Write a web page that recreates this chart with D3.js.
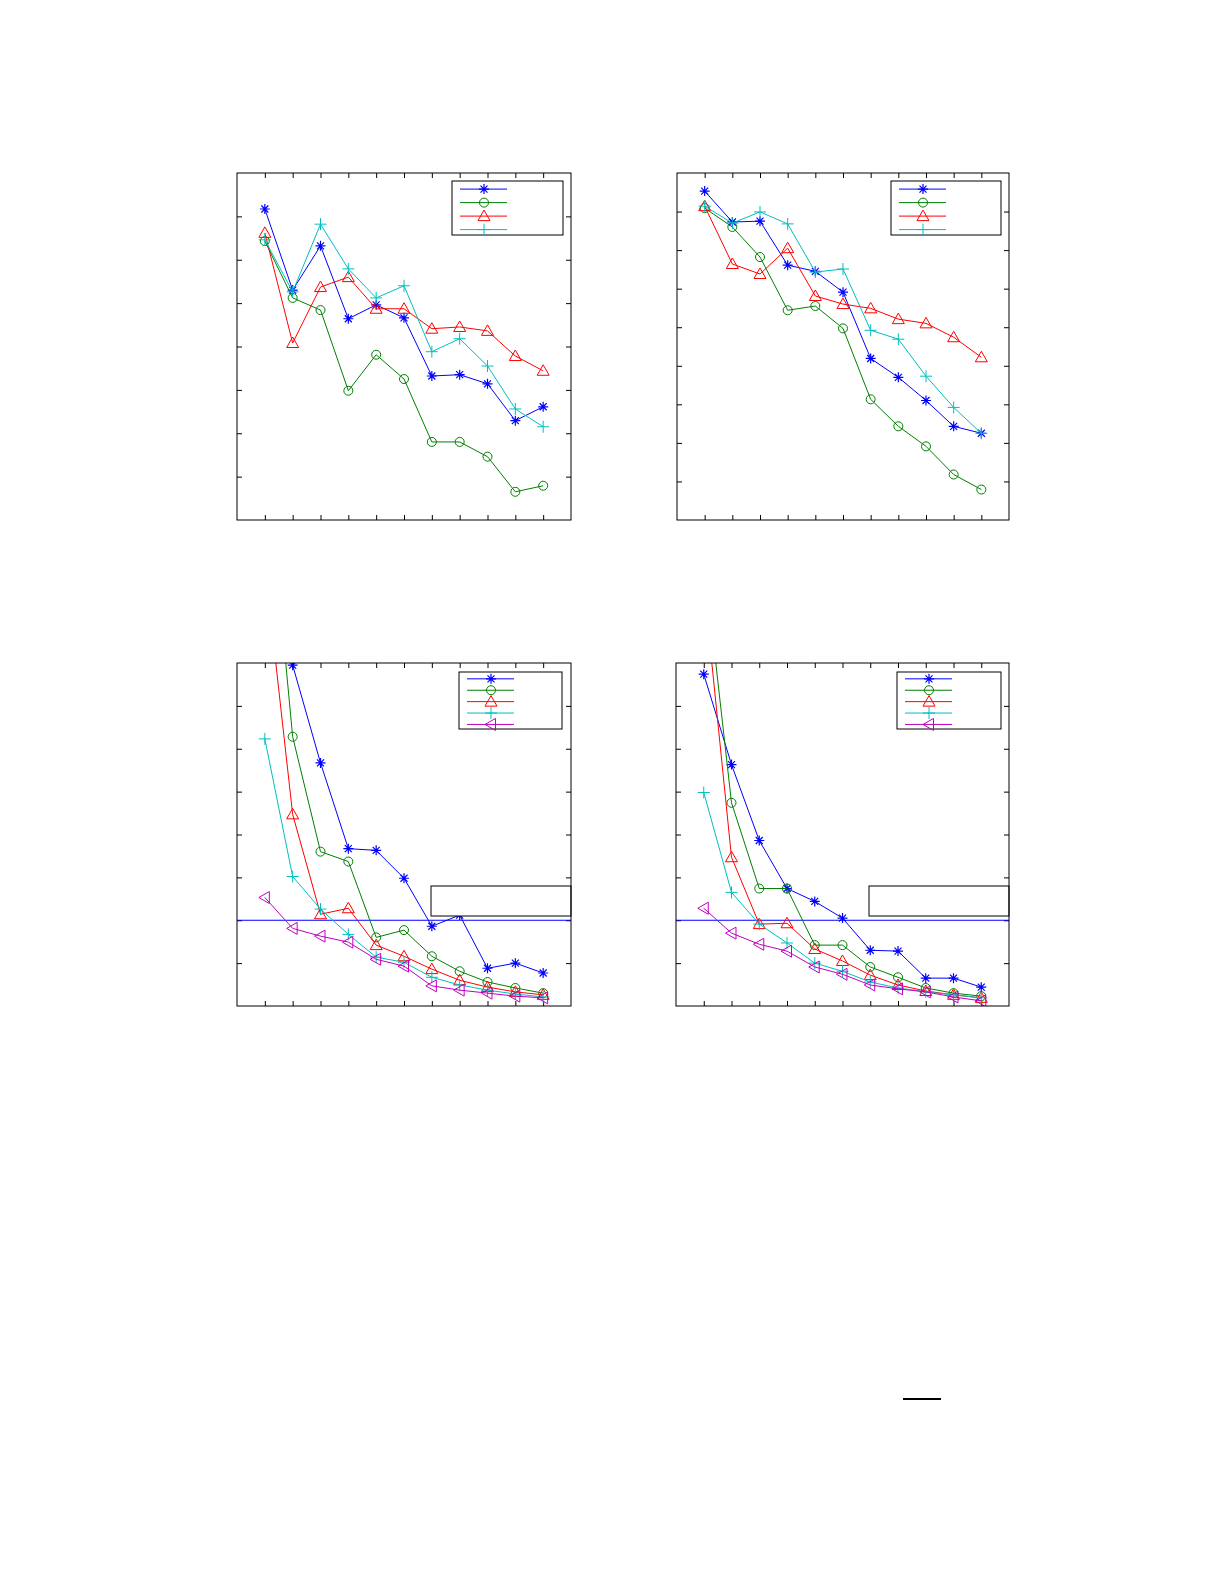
<!DOCTYPE html>
<html><head><meta charset="utf-8">
<script src="https://d3js.org/d3.v7.min.js"></script>
<style>body{margin:0;background:#fff}</style>
</head><body>
<svg id="chart" width="1225" height="1585"></svg>
<script>
var xs = [1,2,3,4,5,6,7,8,9,10,11];

// panel A (top left), y in tick units 0..8
var a1 = [7.17,5.30,6.32,4.64,4.96,4.66,3.32,3.35,3.14,2.29,2.61];
var a2 = [6.43,5.12,4.84,2.98,3.81,3.25,1.80,1.80,1.46,0.65,0.79];
var a3 = [6.62,4.08,5.37,5.60,4.87,4.87,4.41,4.45,4.36,3.78,3.44];
var a4 = [6.46,5.26,6.82,5.79,5.12,5.40,3.88,4.18,3.55,2.56,2.15];
// panel B (top right), y 0..9
var b1 = [8.53,7.73,7.75,6.61,6.45,5.91,4.19,3.70,3.10,2.43,2.25];
var b2 = [8.09,7.60,6.82,5.44,5.55,4.97,3.13,2.43,1.91,1.18,0.79];
var b3 = [8.14,6.64,6.38,7.05,5.81,5.60,5.49,5.21,5.10,4.74,4.22];
var b4 = [8.14,7.70,7.99,7.68,6.43,6.51,4.92,4.69,3.73,2.92,2.25];
// panel C (bottom left), y 0..8
var c1 = [20,7.95,5.67,3.67,3.63,2.98,1.86,2.12,0.88,1.00,0.77];
var c2 = [13.2,6.28,3.60,3.37,1.60,1.77,1.16,0.81,0.56,0.42,0.30];
var c3 = [10.3,4.47,2.14,2.28,1.42,1.16,0.86,0.60,0.44,0.33,0.26];
var c4 = [6.23,3.02,2.26,1.67,1.14,1.02,0.67,0.49,0.37,0.28,0.21];
var c5 = [2.53,1.81,1.63,1.49,1.09,0.93,0.47,0.37,0.30,0.23,0.19];
// panel D (bottom right), y 0..8
var d1 = [7.74,5.63,3.86,2.74,2.44,2.05,1.30,1.28,0.65,0.65,0.44];
var d2 = [10.5,4.74,2.74,2.74,1.42,1.42,0.91,0.67,0.42,0.30,0.23];
var d3v = [9.86,3.47,1.91,1.93,1.33,1.05,0.72,0.49,0.35,0.26,0.19];
var d4 = [4.98,2.65,1.91,1.47,1.00,0.81,0.56,0.42,0.33,0.26,0.19];
var d5 = [2.28,1.70,1.44,1.28,0.91,0.74,0.49,0.40,0.33,0.21,0.12];
var refLine = 2;

var colors = ["#0000ff","#008000","#ff0000","#00bfbf","#bf00bf"];
var markers = ["star","circle","tri","plus","left"];

var svg = d3.select("#chart");

function marker(g, type, x, y, c) {
  if (type == "star") {
    g.append("path").attr("d","M"+(x-5)+","+y+"h10M"+x+","+(y-5)+"v10M"+(x-3.5)+","+(y-3.5)+"l7,7M"+(x-3.5)+","+(y+3.5)+"l7,-7")
      .attr("stroke",c).attr("stroke-width",1.2);
  } else if (type == "circle") {
    g.append("circle").attr("cx",x).attr("cy",y).attr("r",4.5).attr("fill","none").attr("stroke",c);
  } else if (type == "tri") {
    g.append("path").attr("d","M"+x+","+(y-6)+"L"+(x+6)+","+(y+4.5)+"L"+(x-6)+","+(y+4.5)+"Z").attr("fill","none").attr("stroke",c);
  } else if (type == "plus") {
    g.append("path").attr("d","M"+(x-6)+","+y+"h12M"+x+","+(y-6)+"v12").attr("stroke",c);
  } else {
    g.append("path").attr("d","M"+(x-6)+","+y+"L"+(x+4.5)+","+(y-6)+"L"+(x+4.5)+","+(y+6)+"Z").attr("fill","none").attr("stroke",c);
  }
}

function panel(id, x0, y0, w, h, ymax, series, legend, ref) {
  var x = d3.scaleLinear().domain([0,12]).range([x0, x0+w]);
  var y = d3.scaleLinear().domain([0,ymax]).range([y0+h, y0]);
  var g = svg.append("g");
  g.append("clipPath").attr("id",id).append("rect").attr("x",x0).attr("y",y0).attr("width",w).attr("height",h);
  g.append("g").attr("transform","translate(0,"+(y0+h)+")")
    .call(d3.axisTop(x).tickValues(xs).tickSize(5).tickFormat(""));
  g.append("g").attr("transform","translate(0,"+y0+")")
    .call(d3.axisBottom(x).tickValues(xs).tickSize(5).tickFormat(""));
  g.append("g").attr("transform","translate("+x0+",0)")
    .call(d3.axisRight(y).tickValues(d3.range(1,ymax)).tickSize(5).tickFormat(""));
  g.append("g").attr("transform","translate("+(x0+w)+",0)")
    .call(d3.axisLeft(y).tickValues(d3.range(1,ymax)).tickSize(5).tickFormat(""));
  g.selectAll(".domain").remove();
  g.selectAll(".tick line").attr("stroke","#000");
  var pg = g.append("g").attr("clip-path","url(#"+id+")");
  if (ref != null) {
    pg.append("line").attr("x1",x0).attr("x2",x0+w).attr("y1",y(ref)).attr("y2",y(ref)).attr("stroke","#0000ff");
  }
  var line = d3.line().x(function(d,i){return x(xs[i]);}).y(function(d){return y(d);});
  series.forEach(function(s, k) {
    pg.append("path").attr("d", line(s)).attr("fill","none").attr("stroke",colors[k]);
    s.forEach(function(v, i) { marker(pg, markers[k], x(xs[i]), y(v), colors[k]); });
  });
  if (ref != null) {
    g.append("rect").attr("x",x0+w-140).attr("y",y0+223).attr("width",140).attr("height",30)
      .attr("fill","#fff").attr("stroke","#000");
  }
  var lg = g.append("g");
  var lh = legend.h, n = series.length;
  lg.append("rect").attr("x",legend.x).attr("y",legend.y).attr("width",legend.w).attr("height",lh)
    .attr("fill","#fff").attr("stroke","#000");
  series.forEach(function(s, k) {
    var ly = legend.y + lh*(k+0.6)/n;
    lg.append("line").attr("x1",legend.x+8).attr("x2",legend.x+55).attr("y1",ly).attr("y2",ly).attr("stroke",colors[k]);
    marker(lg, markers[k], legend.x+32, ly, colors[k]);
  });
  g.append("rect").attr("x",x0).attr("y",y0).attr("width",w).attr("height",h).attr("fill","none").attr("stroke","#000");
}

panel("pa", 237, 173, 334, 347, 8, [a1,a2,a3,a4], {x:452,y:181,w:111,h:54}, null);
panel("pb", 677, 173, 332, 347, 9, [b1,b2,b3,b4], {x:891,y:181,w:110,h:54}, null);
panel("pc", 237, 663, 334, 343, 8, [c1,c2,c3,c4,c5], {x:459,y:672,w:103,h:57}, refLine);
panel("pd", 676, 663, 333, 343, 8, [d1,d2,d3v,d4,d5], {x:897,y:672,w:104,h:57}, refLine);

svg.append("line").attr("x1",903).attr("x2",941).attr("y1",1399).attr("y2",1399).attr("stroke","#000").attr("stroke-width",2);
</script>
</body></html>
